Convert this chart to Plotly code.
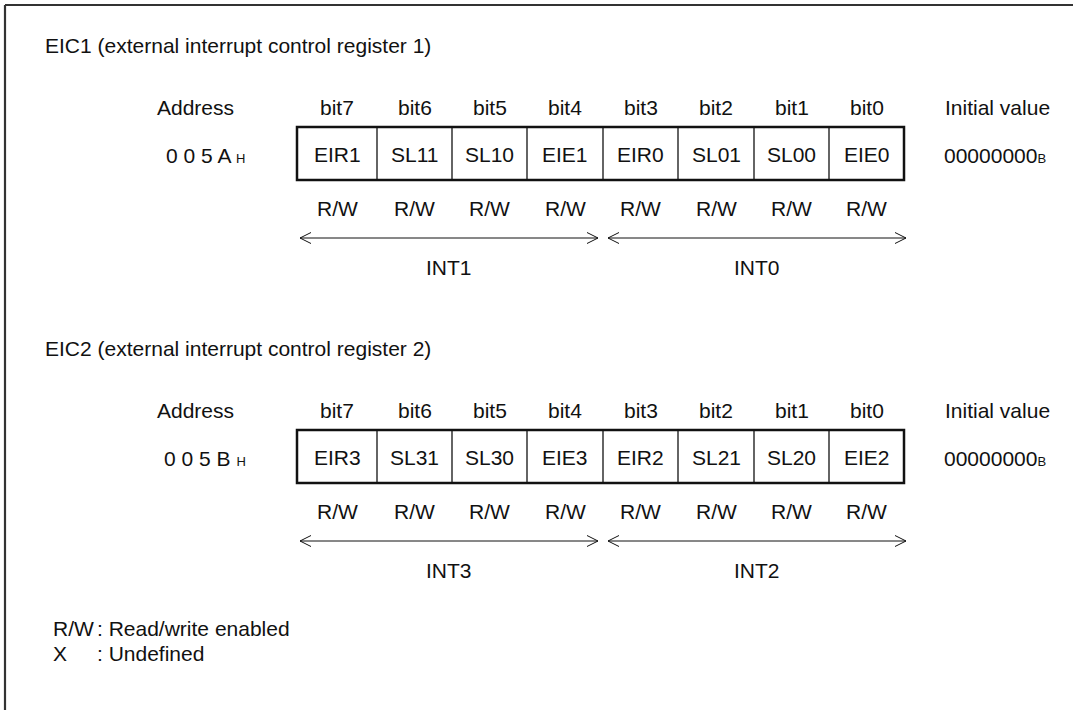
import plotly.graph_objects as go

# ── register contents ──
BITS = ["bit7", "bit6", "bit5", "bit4", "bit3", "bit2", "bit1", "bit0"]
ACCESS = ["R/W"] * 8
REG_TITLES = ["EIC1 (external interrupt control register 1)",
              "EIC2 (external interrupt control register 2)"]
REG_ADDR = ["0 0 5 A", "0 0 5 B"]
REG_FIELDS = [
    ["EIR1", "SL11", "SL10", "EIE1", "EIR0", "SL01", "SL00", "EIE0"],
    ["EIR3", "SL31", "SL30", "EIE3", "EIR2", "SL21", "SL20", "EIE2"],
]
REG_GROUPS = [["INT1", "INT0"], ["INT3", "INT2"]]
INIT_VALUE = "00000000"
LEGEND = [("R/W", ": Read/write enabled"), ("X", ": Undefined")]

W, H = 1073, 710
FONT = "Liberation Sans, Arial, sans-serif"
INK = "#111111"
FS = 21
SMALL = 13

# layout of the bit box (pixel coords of cell edges)
CELL_EDGES = [297, 377, 452, 527, 603, 678, 754, 829, 904]
BLOCK_DY = 303

shapes, annots = [], []


def txt(x, y, s, size=FS, anchor="center"):
    annots.append(dict(x=x, y=y, xref="x", yref="y", text=s, showarrow=False,
                       xanchor=anchor, yanchor="middle",
                       font=dict(family=FONT, size=size, color=INK)))


def line(x0, y0, x1, y1, w=1.2, c=INK):
    shapes.append(dict(type="line", xref="x", yref="y", x0=x0, y0=y0, x1=x1, y1=y1,
                       line=dict(color=c, width=w)))


def dbl_arrow(x0, x1, y):
    line(x0, y, x1, y, 1)
    line(x0, y, x0 + 11, y - 5.5, 1)
    line(x0, y, x0 + 11, y + 5.5, 1)
    line(x1, y, x1 - 11, y - 5.5, 1)
    line(x1, y, x1 - 11, y + 5.5, 1)


# outer frame (open to right / bottom)
line(5, 5, W + 5, 5, 2.2, "#333333")
line(5, 5, 5, H + 5, 2.2, "#333333")

for r, (title, addr, fields, groups) in enumerate(zip(REG_TITLES, REG_ADDR, REG_FIELDS, REG_GROUPS)):
    dy = r * BLOCK_DY
    txt(43, 45 + dy, title, anchor="left")
    txt(195, 107 + dy, "Address")
    txt(997, 107 + dy, "Initial value")
    txt(205, 155 + dy, addr + f" <span style='font-size:{SMALL}px'>H</span>")
    txt(995, 155 + dy, INIT_VALUE + f"<span style='font-size:{SMALL}px'>B</span>")

    y0, y1 = 127 + dy, 180 + dy
    for i, (b, f, a) in enumerate(zip(BITS, fields, ACCESS)):
        cx = (CELL_EDGES[i] + CELL_EDGES[i + 1]) / 2
        txt(cx, 107 + dy, b)
        txt(cx, 154 + dy, f)
        txt(cx, 208 + dy, a)
        if i > 0:
            line(CELL_EDGES[i], y0, CELL_EDGES[i], y1, 1.3)
    shapes.append(dict(type="rect", xref="x", yref="y", x0=CELL_EDGES[0], y0=y0,
                       x1=CELL_EDGES[-1], y1=y1, line=dict(color=INK, width=2.5)))

    # nibble arrows
    for g, name in enumerate(groups):
        gx0, gx1 = CELL_EDGES[4 * g], CELL_EDGES[4 * g + 4]
        ax0 = gx0 + 3 if g == 0 else gx0 + 5
        ax1 = gx1 - 5 if g == 0 else gx1 + 2
        dbl_arrow(ax0, ax1, 238 + dy)
        txt((ax0 + ax1) / 2, 267 + dy, name)

for k, (key, desc) in enumerate(LEGEND):
    txt(51, 628 + 25 * k, key, anchor="left")
    txt(95, 628 + 25 * k, desc, anchor="left")

fig = go.Figure()
fig.update_layout(
    width=W, height=H,
    margin=dict(l=0, r=0, t=0, b=0),
    paper_bgcolor="white", plot_bgcolor="white",
    xaxis=dict(range=[0, W], visible=False, fixedrange=True),
    yaxis=dict(range=[H, 0], visible=False, fixedrange=True),
    shapes=shapes, annotations=annots, showlegend=False,
)
fig.write_html("out.html", config={"displayModeBar": False},
               post_script="document.body.style.margin='0';")
